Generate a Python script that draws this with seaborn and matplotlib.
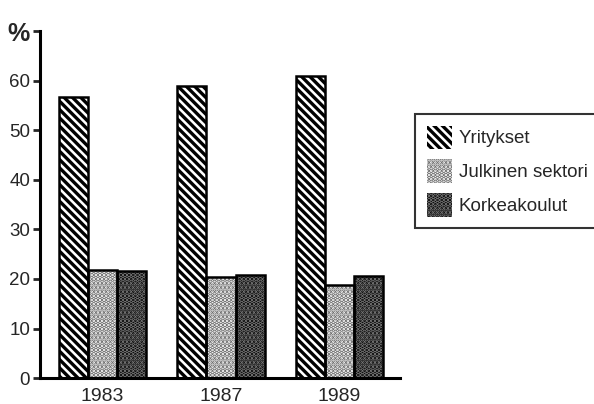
import matplotlib
matplotlib.use("Agg")
import matplotlib.pyplot as plt
from matplotlib.patches import Patch, Rectangle
import seaborn as sns
import pandas as pd

years = ["1983", "1987", "1989"]
series = ["Yritykset", "Julkinen sektori", "Korkeakoulut"]
yritykset = [56.8, 59.0, 61.0]
julkinen = [21.9, 20.5, 18.7]
korkeakoulut = [21.6, 20.9, 20.6]
ytick_values = [0, 10, 20, 30, 40, 50, 60, 70]
ytick_labels = ["0", "10", "20", "30", "40", "50", "60", "%"]

df = pd.DataFrame({
    "year": years * 3,
    "series": [series[0]] * 3 + [series[1]] * 3 + [series[2]] * 3,
    "value": yritykset + julkinen + korkeakoulut,
})

sns.set_style("white")
plt.rcParams["font.family"] = ["Liberation Sans", "DejaVu Sans"]
plt.rcParams["hatch.linewidth"] = 2.4

fig = plt.figure(figsize=(5.94, 4.04), dpi=100)
ax = fig.add_axes([0.067, 0.064, 0.606, 0.859])

sns.barplot(data=df, x="year", y="value", hue="series", order=years,
            hue_order=series, palette=["white"] * 3, width=0.74,
            edgecolor="black", linewidth=1.5, legend=False, ax=ax)

styles = [
    dict(face="white", hatch="\\\\\\\\", hcol="black"),
    dict(face="white", hatch="....", hcol="#6a6a6a"),
    dict(face="#000000", hatch="....", hcol="#7a7a7a"),
]
for cont, st in zip(ax.containers, styles):
    for p in cont.patches:
        p.set_facecolor(st["face"])
        p.set_hatch(st["hatch"])
        p.set_edgecolor(st["hcol"])
        p.set_linewidth(0)
        ax.add_patch(Rectangle(p.get_xy(), p.get_width(), p.get_height(),
                               fill=False, edgecolor="black", linewidth=1.8,
                               zorder=p.get_zorder() + 0.1))

ax.set_xlim(-0.53, 2.51)
ax.set_ylim(0, 70)
ax.set_yticks(ytick_values)
ax.set_yticklabels(ytick_labels)
ax.set_xlabel("")
ax.set_ylabel("")
for s in ["top", "right"]:
    ax.spines[s].set_visible(False)
for s in ["left", "bottom"]:
    ax.spines[s].set_linewidth(2.2)
    ax.spines[s].set_color("black")
ax.tick_params(axis="y", length=5, width=2, pad=2, labelsize=13.5, left=True, direction="out")
ax.tick_params(axis="x", length=0, pad=7, labelsize=14)
lbls = ax.get_yticklabels()
lbls[-1].set_fontsize(18)
lbls[-1].set_fontweight("bold")

handles = [Patch(facecolor=st["face"], hatch=st["hatch"], edgecolor="black", linewidth=1.2)
           for st in styles]
leg = fig.legend(handles, series, loc="upper left", bbox_to_anchor=(0.699, 0.718),
                 fontsize=13.5, frameon=True, fancybox=False, edgecolor="black",
                 handlelength=1.35, handleheight=1.55, labelspacing=0.55,
                 borderpad=0.62, handletextpad=0.35, borderaxespad=0)
leg.get_frame().set_linewidth(1.5)
for h, st in zip(leg.legend_handles, styles):
    h.set_edgecolor(st["hcol"])
    h.set_linewidth(0)

fig.savefig("out.png", dpi=100)
